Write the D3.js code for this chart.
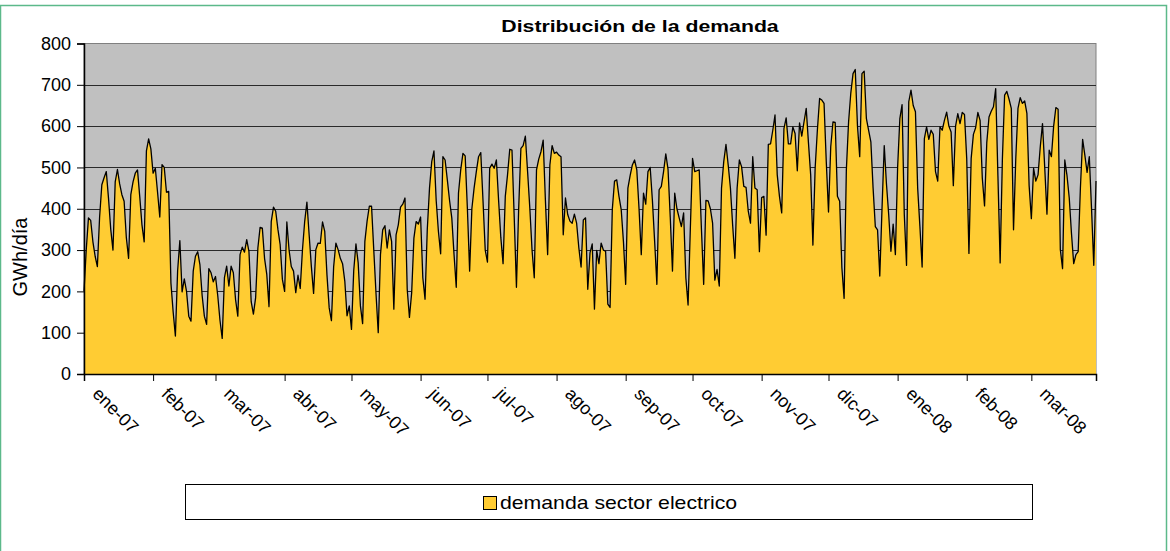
<!DOCTYPE html>
<html lang="es">
<head>
<meta charset="UTF-8">
<title>Distribución de la demanda</title>
<script src="https://d3js.org/d3.v7.min.js"></script>
<style>
    body { margin: 0; background: #fff; }
    svg text { font-family: "Liberation Sans", Arial, sans-serif; fill: #000; }
</style>
</head>
<body>
<svg id="chart" width="1170" height="551"></svg>
<script>
    // serie diaria desde el 1 de enero de 2007 (GWh/dia)
    let startDate = new Date(2007, 0, 1);
    let demanda = [
        200,300,378,372,320,285,260,380,458,475,
        490,425,350,300,465,495,460,434,418,330,
        280,434,465,486,494,430,361,320,540,569,
        545,486,498,440,380,507,500,440,442,220,
        150,92,250,323,199,230,200,140,128,249,
        285,296,265,190,140,120,255,245,223,236,
        190,130,86,233,261,213,261,245,180,140,
        289,307,295,325,297,175,145,185,305,355,
        353,280,241,163,369,404,394,350,313,229,
        200,368,300,260,249,197,239,207,300,369,
        416,337,260,195,301,317,316,368,345,240,
        160,129,260,317,301,280,267,225,141,165,
        108,250,315,269,165,122,321,370,406,406,
        300,195,100,289,349,359,305,349,321,157,
        337,361,404,411,426,205,137,197,329,369,
        363,380,233,181,350,450,514,540,420,345,
        291,526,518,470,420,378,290,210,438,494,
        534,528,400,249,400,450,490,526,536,420,
        300,271,498,508,498,518,420,330,267,430,
        482,544,542,380,210,400,546,553,576,490,
        402,300,233,494,520,538,566,420,289,506,
        553,534,537,530,526,337,426,386,370,365,
        387,365,305,259,373,378,205,293,315,157,
        299,267,317,300,297,169,161,398,467,470,
        430,398,321,217,450,480,506,518,494,400,
        289,438,411,490,500,420,321,217,446,454,
        490,533,496,380,249,438,400,378,357,390,
        233,167,350,522,490,492,494,350,217,420,
        419,400,365,227,253,213,450,514,556,506,
        450,360,280,450,518,502,454,452,394,365,
        526,450,446,296,427,430,336,556,557,590,
        627,482,430,390,594,620,557,557,598,582,
        492,608,576,610,643,560,482,312,498,590,
        667,663,655,514,392,550,610,609,430,418,
        257,183,494,610,680,727,737,600,526,727,
        733,618,590,562,450,357,349,237,400,553,
        460,386,297,363,289,500,618,652,386,263,
        659,687,650,635,450,357,259,570,598,568,
        590,580,490,467,598,590,614,634,600,586,
        456,600,630,606,633,628,522,292,522,580,
        596,633,614,474,407,560,622,636,647,691,
        480,269,520,675,684,665,643,349,520,643,
        669,655,661,631,456,376,498,467,482,550,
        606,500,387,542,526,600,645,641,301,255,
        518,480,426,340,267,289,296,450,568,530,
        488,526,400,263,467
    ];
    let monthLabels = ["ene-07","feb-07","mar-07","abr-07","may-07","jun-07","jul-07",
        "ago-07","sep-07","oct-07","nov-07","dic-07","ene-08","feb-08","mar-08"];
    let yTicks = [0,100,200,300,400,500,600,700,800];
    let seriesName = "demanda sector electrico";

    let data = demanda.map(function(v, i){
        return {date: d3.timeDay.offset(startDate, i), value: v};
    });

    let svg = d3.select('#chart');
    let plotL = 84, plotR = 1096, plotT = 43.5, plotB = 374;

    // marco verde exterior
    svg.append('rect')
        .attr('x', 0.5).attr('y', 5.5)
        .attr('width', 1166).attr('height', 570)
        .attr('fill', 'white')
        .attr('stroke', '#5cb98a').attr('stroke-width', 1.5);

    let x = d3.scaleTime()
        .domain([startDate, data[data.length - 1].date])
        .range([plotL, plotR]);
    let y = d3.scaleLinear().domain([0, 800]).range([plotB, plotT]);

    // fondo del area de trazado
    svg.append('rect')
        .attr('x', plotL).attr('y', plotT)
        .attr('width', plotR - plotL).attr('height', plotB - plotT)
        .attr('fill', '#c0c0c0')
        .attr('stroke', '#808080').attr('stroke-width', 1);

    // lineas de grilla
    svg.append('g').selectAll('line')
        .data(yTicks.filter(function(d){ return d > 0 && d < 800; }))
        .enter().append('line')
        .attr('x1', plotL).attr('x2', plotR)
        .attr('y1', function(d){ return Math.round(y(d)) + 0.5; })
        .attr('y2', function(d){ return Math.round(y(d)) + 0.5; })
        .attr('stroke', '#2a2a2a').attr('stroke-width', 1);

    let area = d3.area()
        .x(function(d){ return x(d.date); })
        .y0(plotB)
        .y1(function(d){ return y(d.value); });
    let line = d3.line()
        .x(function(d){ return x(d.date); })
        .y(function(d){ return y(d.value); });

    svg.append('path').datum(data)
        .attr('d', area)
        .attr('fill', '#ffcc33');
    svg.append('path').datum(data)
        .attr('d', line)
        .attr('fill', 'none')
        .attr('stroke', '#000').attr('stroke-width', 1.3)
        .attr('stroke-linejoin', 'round');

    // eje Y
    let yAxis = d3.axisLeft(y).tickValues(yTicks).tickSize(7).tickPadding(6);
    let gy = svg.append('g').attr('transform', 'translate(' + plotL + ',0)').call(yAxis);
    gy.select('.domain').attr('stroke', '#000').attr('stroke-width', 1.5);
    gy.selectAll('.tick line').attr('stroke', '#000');
    gy.selectAll('.tick text')
        .style('font-size', '18px')
        .style('font-family', '"Liberation Sans", Arial, sans-serif');

    // eje X
    let months = d3.timeMonth.range(startDate, d3.timeDay.offset(data[data.length - 1].date, 1));
    let xAxis = d3.axisBottom(x).tickValues(months).tickSize(7)
        .tickFormat(function(d, i){ return monthLabels[i]; });
    let gx = svg.append('g').attr('transform', 'translate(0,' + plotB + ')').call(xAxis);
    gx.select('.domain').attr('stroke', '#000').attr('stroke-width', 1.5);
    gx.selectAll('.tick line').attr('stroke', '#000');
    gx.selectAll('.tick text')
        .style('font-size', '18px')
        .style('font-family', '"Liberation Sans", Arial, sans-serif')
        .attr('text-anchor', 'start')
        .attr('x', 0).attr('y', 0).attr('dy', 0)
        .attr('transform', 'translate(7,21) rotate(45)');

    // titulo (texto algo ensanchado, como en la imagen original)
    svg.append('text')
        .attr('transform', 'translate(640,32) scale(1.25,1)')
        .attr('text-anchor', 'middle')
        .style('font-size', '17px').style('font-weight', 'bold')
        .text('Distribución de la demanda');

    // titulo eje Y
    svg.append('text')
        .attr('transform', 'translate(27,257) rotate(-90)')
        .attr('text-anchor', 'middle')
        .style('font-size', '20px')
        .text('GWh/día');

    // leyenda
    let legend = svg.append('g');
    legend.append('rect')
        .attr('x', 185.5).attr('y', 484.5)
        .attr('width', 847).attr('height', 35)
        .attr('fill', 'white').attr('stroke', '#000').attr('stroke-width', 1);
    legend.append('rect')
        .attr('x', 483.5).attr('y', 496.5)
        .attr('width', 13).attr('height', 13)
        .attr('fill', '#ffcc33').attr('stroke', '#000').attr('stroke-width', 1);
    legend.append('text')
        .attr('transform', 'translate(500,509) scale(1.18,1)')
        .style('font-size', '18px')
        .text(seriesName);
</script>
</body>
</html>
